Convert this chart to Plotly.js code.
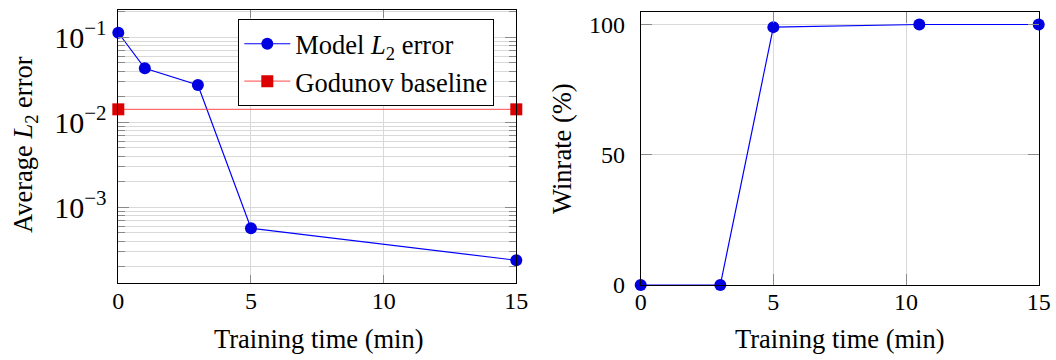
<!DOCTYPE html>
<html><head><meta charset="utf-8">
<script src="https://cdn.plot.ly/plotly-3.0.1.min.js"></script>
<style>html,body{margin:0;padding:0;background:#fff}</style>
</head><body><div id="chart" style="width:1056px;height:360px"></div>
<script>
// ---- data ----
const errTime = [0, 1, 3, 5, 15];
const modelError = [0.113, 0.0432, 0.0275, 0.000566, 0.000238];
const baselineTime = [0, 15];
const godunovError = [0.0142, 0.0142];
const winTime = [0, 3, 5, 10.5, 15];
const winrate = [0, 0, 99, 100, 100];
const xTickVals = [0, 5, 10, 15];
const winTickVals = [0, 50, 100];
const modelName = 'Model <i>L</i><sub>2</sub> error';
const baselineName = 'Godunov baseline';
const xTitle = 'Training time (min)';
const yTitleLeft = 'Average <i>L</i><sub>2</sub> error';
const yTitleRight = 'Winrate (%)';

// ---- layout helpers ----
const W = 1056, H = 360;
const px = v => v / W, py = v => 1 - v / H;
const FONT = '"Liberation Serif", "Times New Roman", serif';
const GRID = '#d9d9d9', TICK = '#8a8a8a';
const BLUE_LINE = 'rgb(0,0,255)', BLUE_MK = 'rgb(0,0,225)';
const TXT = 26.5;

const traces = [
  {x: errTime, y: modelError, xaxis: 'x', yaxis: 'y', name: modelName, mode: 'lines+markers',
   line: {color: BLUE_LINE, width: 1.2}, marker: {color: BLUE_MK, size: 12, symbol: 'circle'}, cliponaxis: false},
  {x: baselineTime, y: godunovError, xaxis: 'x', yaxis: 'y', name: baselineName, mode: 'lines+markers',
   line: {color: 'rgba(255,60,60,0.75)', width: 1.2}, marker: {color: 'rgb(220,0,0)', size: 12, symbol: 'square'}, cliponaxis: false},
  {x: winTime, y: winrate, xaxis: 'x2', yaxis: 'y2', name: 'Winrate', mode: 'lines+markers', showlegend: false,
   line: {color: BLUE_LINE, width: 1.2}, marker: {color: BLUE_MK, size: 12, symbol: 'circle'}, cliponaxis: false}
];

const common = {
  showline: true, linecolor: '#000', linewidth: 1, mirror: 'ticks', zeroline: false,
  ticks: 'inside', tickcolor: TICK, tickwidth: 1,
  showgrid: true, gridcolor: GRID, gridwidth: 1,
  tickfont: {family: FONT, size: 24, color: '#000'}
};

const layout = {
  width: W, height: H,
  margin: {l: 0, r: 0, t: 0, b: 0, pad: 0},
  paper_bgcolor: '#fff', plot_bgcolor: '#fff',
  font: {family: FONT, size: 24, color: '#000'},
  showlegend: true,
  legend: {x: px(238.3), y: py(19), xanchor: 'left', yanchor: 'top',
           bgcolor: '#fff', bordercolor: '#000', borderwidth: 1,
           font: {family: FONT, size: TXT, color: '#000'}, itemwidth: 46, tracegroupgap: 0},
  xaxis: Object.assign({}, common, {domain: [px(118.3), px(516.3)], anchor: 'y', range: [0, 15],
           tickmode: 'array', tickvals: xTickVals, ticklen: 8, ticklabelstandoff: -4}),
  yaxis: Object.assign({}, common, {domain: [py(283), py(10)], anchor: 'x', type: 'log',
           range: [-3.891, -0.679], tickmode: 'linear', tick0: 0, dtick: 1, exponentformat: 'power',
           ticklen: 11, ticklabelstandoff: 6,
           minor: {dtick: 'D1', ticks: 'inside', ticklen: 7, tickcolor: TICK, showgrid: true, gridcolor: GRID, gridwidth: 1}}),
  xaxis2: Object.assign({}, common, {domain: [px(640.7), px(1038.7)], anchor: 'y2', range: [0, 15],
           tickmode: 'array', tickvals: xTickVals, ticklen: 11, ticklabelstandoff: -5}),
  yaxis2: Object.assign({}, common, {domain: [py(285), py(11.5)], anchor: 'x2', range: [0, 105],
           tickmode: 'array', tickvals: winTickVals, ticklen: 11, ticklabelstandoff: 10}),
  annotations: [
    {text: xTitle, xref: 'paper', yref: 'paper', x: px(319), y: py(339), xanchor: 'center', yanchor: 'middle', showarrow: false, font: {family: FONT, size: TXT}},
    {text: xTitle, xref: 'paper', yref: 'paper', x: px(840), y: py(339), xanchor: 'center', yanchor: 'middle', showarrow: false, font: {family: FONT, size: TXT}},
    {text: yTitleLeft, xref: 'paper', yref: 'paper', x: px(25), y: py(145), xanchor: 'center', yanchor: 'middle', textangle: -90, showarrow: false, font: {family: FONT, size: TXT}},
    {text: yTitleRight, xref: 'paper', yref: 'paper', x: px(562), y: py(149), xanchor: 'center', yanchor: 'middle', textangle: -90, showarrow: false, font: {family: FONT, size: TXT}}
  ]
};

Plotly.newPlot('chart', traces, layout, {staticPlot: true, displayModeBar: false});
</script></body></html>
